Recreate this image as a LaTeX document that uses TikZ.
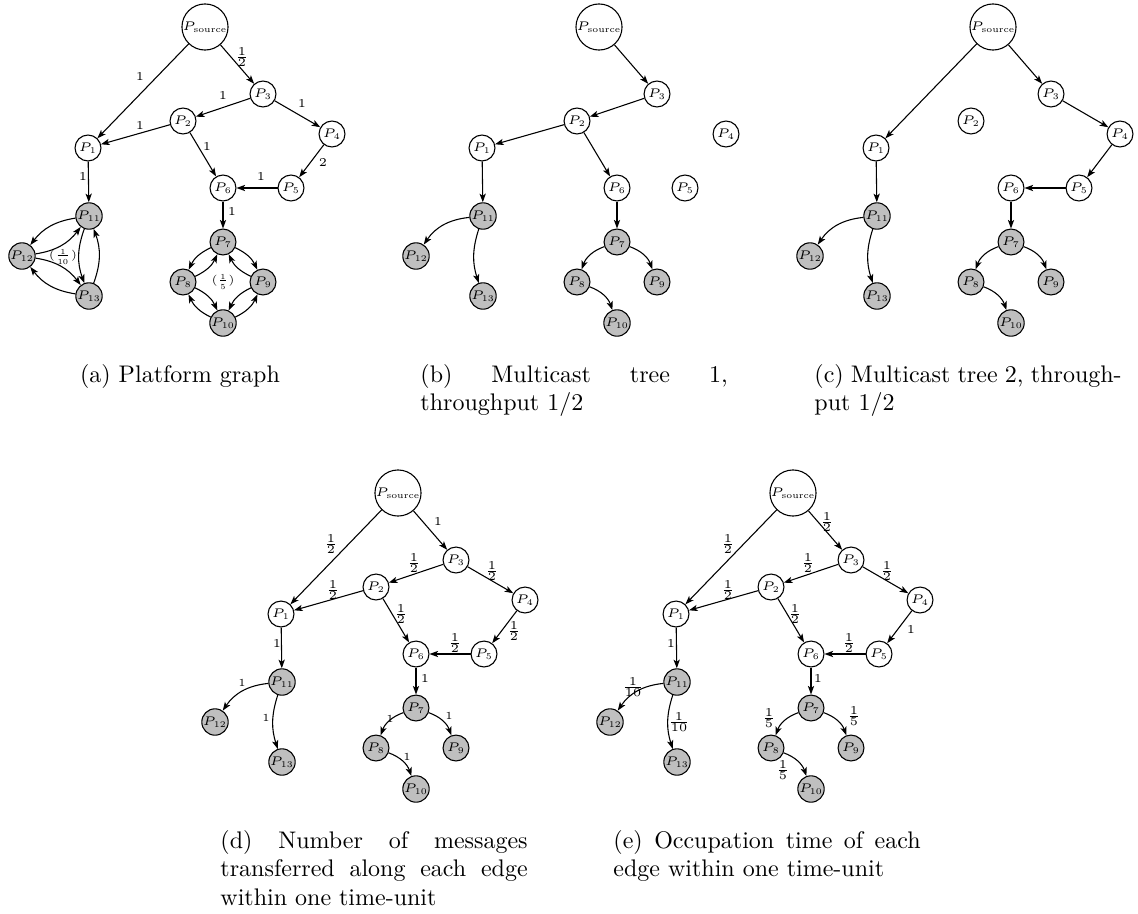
\RequirePackage{fix-cm}
\documentclass[tikz,border=0pt]{standalone}
\usetikzlibrary{arrows.meta}
\newcommand\mknodes[1]{%
  \node[sn] (#1-s) at (205,27) {$P_{\mathrm{source}}$};
  \node[pn] (#1-3) at (263,94) {$P_{3}$};
  \node[pn] (#1-2) at (183,121) {$P_{2}$};
  \node[pn] (#1-4) at (332,134) {$P_{4}$};
  \node[pn] (#1-1) at (88,148) {$P_{1}$};
  \node[pn] (#1-5) at (291,188) {$P_{5}$};
  \node[pn] (#1-6) at (223,188) {$P_{6}$};
  \node[gn] (#1-11) at (89,216) {$P_{11}$};
  \node[gn] (#1-7) at (223,242) {$P_{7}$};
  \node[gn] (#1-12) at (22,256) {$P_{12}$};
  \node[gn] (#1-8) at (183,282) {$P_{8}$};
  \node[gn] (#1-9) at (263,282) {$P_{9}$};
  \node[gn] (#1-13) at (89,296) {$P_{13}$};
  \node[gn] (#1-10) at (223,323) {$P_{10}$};
}
\newcommand\mktree[1]{%
  \draw[edge] (#1-1) -- (#1-11);
  \draw[edge] (#1-6) -- (#1-7);
  \draw[edge] (#1-11) to[bend right=25] (#1-12);
  \draw[edge] (#1-11) to[bend right=18] (#1-13);
  \draw[edge] (#1-7) to[bend right=25] (#1-8);
  \draw[edge] (#1-7) to[bend left=25] (#1-9);
  \draw[edge] (#1-8) to[bend left=25] (#1-10);
}
\begin{document}
\begin{tikzpicture}[x=0.41667pt,y=-0.41667pt,
  pn/.style={circle,draw,line width=0.45pt,minimum size=10.8pt,inner sep=0pt,font=\fontsize{5.2}{6}\selectfont},
  gn/.style={pn,fill=black!25},
  sn/.style={pn,minimum size=16.2pt},
  edge/.style={line width=0.45pt,-{Stealth[length=3.6pt,width=2.6pt,inset=0.9pt]}},
  lab/.style={inner sep=0pt,font=\fontsize{5}{6}\selectfont},
  slab/.style={inner sep=0pt,font=\fontsize{4.5}{5}\selectfont},
  clab/.style={inner sep=0pt,font=\fontsize{4.6}{5}\selectfont},
  captxt/.style={inner sep=0pt,font=\fontsize{10}{12}\selectfont}]
\useasboundingbox (0,0) rectangle (1138,913);

% ---------------- (a) platform graph
\begin{scope}
  \mknodes{a}
  \draw[edge] (a-s) -- (a-1);
  \draw[edge] (a-s) -- (a-3);
  \draw[edge] (a-3) -- (a-2);
  \draw[edge] (a-3) -- (a-4);
  \draw[edge] (a-2) -- (a-1);
  \draw[edge] (a-2) -- (a-6);
  \draw[edge] (a-4) -- (a-5);
  \draw[edge] (a-5) -- (a-6);
  \draw[edge] (a-1) -- (a-11);
  \draw[edge] (a-6) -- (a-7);
  \draw[edge] (a-11) to[bend right=22] (a-12);
  \draw[edge] (a-12) to[bend right=22] (a-11);
  \draw[edge] (a-11) to[bend right=20] (a-13);
  \draw[edge] (a-13) to[bend right=20] (a-11);
  \draw[edge] (a-12) to[bend left=22] (a-13);
  \draw[edge] (a-13) to[bend left=22] (a-12);
  \draw[edge] (a-7) to[bend right=20] (a-8);
  \draw[edge] (a-8) to[bend right=20] (a-7);
  \draw[edge] (a-7) to[bend left=20] (a-9);
  \draw[edge] (a-9) to[bend left=20] (a-7);
  \draw[edge] (a-8) to[bend left=20] (a-10);
  \draw[edge] (a-10) to[bend left=20] (a-8);
  \draw[edge] (a-9) to[bend right=20] (a-10);
  \draw[edge] (a-10) to[bend right=20] (a-9);
  \node[lab] (a-l1) at (140,77) {1};
  \node[lab] (a-l2) at (242,57) {$\frac{1}{2}$};
  \node[lab] (a-l3) at (223,96) {1};
  \node[lab] (a-l4) at (302,104) {1};
  \node[lab] (a-l5) at (140,126) {1};
  \node[lab] (a-l6) at (207,147) {1};
  \node[lab] (a-l7) at (323,163) {2};
  \node[lab] (a-l8) at (261,177) {1};
  \node[lab] (a-l9) at (83,177) {1};
  \node[lab] (a-l10) at (232,212) {1};
  \node[clab] (a-l11) at (63,257) {$(\frac{1}{10})$};
  \node[clab] (a-l12) at (223,282) {$(\frac{1}{5})$};
\end{scope}

% ---------------- (b) multicast tree 1
\begin{scope}[shift={(394,0)}]
  \mknodes{b}
  \draw[edge] (b-s) -- (b-3);
  \draw[edge] (b-3) -- (b-2);
  \draw[edge] (b-2) -- (b-1);
  \draw[edge] (b-2) -- (b-6);
  \mktree{b}
\end{scope}

% ---------------- (c) multicast tree 2
\begin{scope}[shift={(788,0)}]
  \mknodes{c}
  \draw[edge] (c-s) -- (c-1);
  \draw[edge] (c-s) -- (c-3);
  \draw[edge] (c-3) -- (c-4);
  \draw[edge] (c-4) -- (c-5);
  \draw[edge] (c-5) -- (c-6);
  \mktree{c}
\end{scope}

% ---------------- (d) number of messages
\begin{scope}[shift={(193,466)}]
  \mknodes{d}
  \draw[edge] (d-s) -- (d-1);
  \draw[edge] (d-s) -- (d-3);
  \draw[edge] (d-3) -- (d-2);
  \draw[edge] (d-3) -- (d-4);
  \draw[edge] (d-2) -- (d-1);
  \draw[edge] (d-2) -- (d-6);
  \draw[edge] (d-4) -- (d-5);
  \draw[edge] (d-5) -- (d-6);
  \mktree{d}
  \node[lab] (d-l1) at (138,78) {$\frac{1}{2}$};
  \node[lab] (d-l2) at (245,55) {1};
  \node[lab] (d-l3) at (221,97) {$\frac{1}{2}$};
  \node[lab] (d-l4) at (299,105) {$\frac{1}{2}$};
  \node[lab] (d-l5) at (140,124) {$\frac{1}{2}$};
  \node[lab] (d-l6) at (208,148) {$\frac{1}{2}$};
  \node[lab] (d-l7) at (321,165) {$\frac{1}{2}$};
  \node[lab] (d-l8) at (262,177) {$\frac{1}{2}$};
  \node[lab] (d-l9) at (84,177) {1};
  \node[lab] (d-l10) at (232,212) {1};
  \node[slab] (d-l11) at (49,217) {1};
  \node[slab] (d-l12) at (73,252) {1};
  \node[slab] (d-l13) at (197,253) {1};
  \node[slab] (d-l14) at (256,250) {1};
  \node[slab] (d-l15) at (214,291) {1};
\end{scope}

% ---------------- (e) occupation time
\begin{scope}[shift={(588,466)}]
  \mknodes{e}
  \draw[edge] (e-s) -- (e-1);
  \draw[edge] (e-s) -- (e-3);
  \draw[edge] (e-3) -- (e-2);
  \draw[edge] (e-3) -- (e-4);
  \draw[edge] (e-2) -- (e-1);
  \draw[edge] (e-2) -- (e-6);
  \draw[edge] (e-4) -- (e-5);
  \draw[edge] (e-5) -- (e-6);
  \mktree{e}
  \node[lab] (e-l1) at (140,78) {$\frac{1}{2}$};
  \node[lab] (e-l2) at (239,56) {$\frac{1}{2}$};
  \node[lab] (e-l3) at (220,97) {$\frac{1}{2}$};
  \node[lab] (e-l4) at (299,105) {$\frac{1}{2}$};
  \node[lab] (e-l5) at (140,124) {$\frac{1}{2}$};
  \node[lab] (e-l6) at (207,148) {$\frac{1}{2}$};
  \node[lab] (e-l7) at (323,163) {1};
  \node[lab] (e-l8) at (261,177) {$\frac{1}{2}$};
  \node[lab] (e-l9) at (83,177) {1};
  \node[lab] (e-l10) at (230,212) {1};
  \node[lab] (e-l11) at (45,221) {$\frac{1}{10}$};
  \node[lab] (e-l12) at (91,256) {$\frac{1}{10}$};
  \node[lab] (e-l13) at (181,252) {$\frac{1}{5}$};
  \node[lab] (e-l14) at (266,250) {$\frac{1}{5}$};
  \node[lab] (e-l15) at (195,304) {$\frac{1}{5}$};
\end{scope}

% ---------------- captions
\node[captxt,anchor=base] (cap-a) at (180,382) {(a) Platform graph};
\node[captxt,anchor=base west] (cap-b) at (420,382) {\parbox[t]{128pt}{(b) Multicast tree 1,\linebreak throughput 1/2}};
\node[captxt,anchor=base west] (cap-c) at (814,382) {\parbox[t]{128pt}{(c) Multicast tree 2, through-\linebreak put 1/2}};
\node[captxt,anchor=base west] (cap-d) at (220,848) {\parbox[t]{128pt}{(d) Number of messages\linebreak transferred along each edge\linebreak within one time-unit}};
\node[captxt,anchor=base west] (cap-e) at (613,848) {\parbox[t]{128pt}{(e) Occupation time of each\linebreak edge within one time-unit}};
\end{tikzpicture}
\end{document}
